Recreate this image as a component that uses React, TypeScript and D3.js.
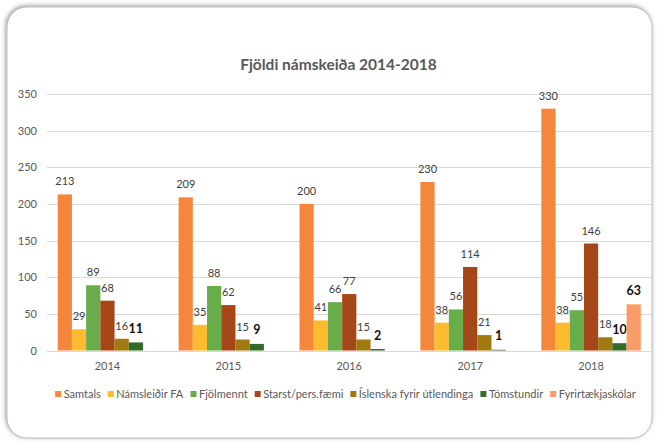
import React from "react";
import * as d3 from "d3";

const years = ["2014", "2015", "2016", "2017", "2018"];
const seriesNames = [
  "Samtals",
  "Námsleiðir FA",
  "Fjölmennt",
  "Starst/pers.fæmi",
  "Íslenska fyrir útlendinga",
  "Tómstundir",
  "Fyrirtækjaskólar",
];
const samtals = [213, 209, 200, 230, 330];
const namsleidir = [29, 35, 41, 38, 38];
const fjolmennt = [89, 88, 66, 56, 55];
const starst = [68, 62, 77, 114, 146];
const islenska = [16, 15, 15, 21, 18];
const tomstundir = [11, 9, 2, 1, 10];
const fyrirtaeki: (number | null)[] = [null, null, null, null, 63];
const seriesColors = ["#F4873C", "#FDBC30", "#69AC4A", "#A6471A", "#A0790F", "#336B28", "#F99C68"];
const boldLabelSeries = [5, 6];
const yTicks = [0, 50, 100, 150, 200, 250, 300, 350];
const title = "Fjöldi námskeiða 2014-2018";

const W = 659;
const H = 443;
const FONT = "Lato, 'Open Sans', sans-serif";

function measure(text: string, font: string): number {
  if (typeof document === "undefined") return text.length * 5.5;
  const c = document.createElement("canvas").getContext("2d");
  if (!c) return text.length * 5.5;
  c.font = font;
  return c.measureText(text).width;
}

export default function App() {
  const allSeries = [samtals, namsleidir, fjolmennt, starst, islenska, tomstundir, fyrirtaeki];

  const x0 = d3
    .scaleBand<string>()
    .domain(years)
    .range([47, 651.5])
    .paddingInner(0.177)
    .paddingOuter(0.0885);
  const x1 = d3
    .scaleBand<number>()
    .domain(d3.range(seriesNames.length))
    .range([0, x0.bandwidth()]);
  const y = d3.scaleLinear().domain([0, 350]).range([350.5, 94]);

  // legend layout
  const legFont = `11px ${FONT}`;
  const sq = 6;
  const sqGap = 2.5;
  const itemGap = 7;
  const widths = seriesNames.map((n) => measure(n, legFont));
  const total =
    d3.sum(widths) + seriesNames.length * (sq + sqGap) + (seriesNames.length - 1) * itemGap;
  let cursor = 345.5 - total / 2;
  const legendItems = seriesNames.map((n, i) => {
    const item = { name: n, x: cursor, color: seriesColors[i] };
    cursor += sq + sqGap + widths[i] + itemGap;
    return item;
  });

  return (
    <svg
      width={W}
      height={H}
      style={{ position: "absolute", left: 0, top: 0, background: "#fff" }}
      fontFamily={FONT}
    >
      <defs>
        <filter id="sh" x="-5%" y="-5%" width="110%" height="110%">
          <feDropShadow dx="-1" dy="-1" stdDeviation="2" floodColor="#555" floodOpacity="0.6" />
        </filter>
      </defs>
      <rect x={0} y={0} width={W} height={H} fill="#fff" />
      <rect
        x={7}
        y={7}
        width={645}
        height={431}
        rx={20}
        ry={20}
        fill="#fff"
        stroke="#bdbdbd"
        strokeWidth={1}
        filter="url(#sh)"
      />
      <text x={338.5} y={70} textAnchor="middle" fontSize={15.5} fontWeight="bold" fill="#595959">
        {title}
      </text>
      {yTicks.map((t) => (
        <g key={t}>
          <line
            x1={47}
            x2={651.5}
            y1={Math.round(y(t)) + 0.5}
            y2={Math.round(y(t)) + 0.5}
            stroke="#d9d9d9"
            strokeWidth={1}
          />
          <text x={37} y={y(t) + 4} textAnchor="end" fontSize={11} fill="#595959">
            {t}
          </text>
        </g>
      ))}
      {years.map((yr, yi) => (
        <g key={yr} transform={`translate(${x0(yr)},0)`}>
          {allSeries.map((s, si) => {
            const v = s[yi];
            if (v === null || v === undefined) return null;
            const bx = x1(si) as number;
            const bw = x1.bandwidth();
            const bold = boldLabelSeries.includes(si);
            return (
              <g key={si}>
                <rect x={bx} y={y(v)} width={bw} height={y(0) - y(v)} fill={seriesColors[si]} />
                <text
                  x={bx + bw / 2}
                  y={y(v) - (bold ? 9.5 : 9)}
                  textAnchor="middle"
                  fontSize={bold ? 12.5 : 11}
                  fontWeight={bold ? "bold" : "normal"}
                  fill={bold ? "#111" : "#404040"}
                >
                  {v}
                </text>
              </g>
            );
          })}
          <text
            x={x0.bandwidth() / 2}
            y={370}
            textAnchor="middle"
            fontSize={11}
            fill="#595959"
          >
            {yr}
          </text>
        </g>
      ))}
      {legendItems.map((it) => (
        <g key={it.name}>
          <rect x={it.x} y={391} width={sq} height={sq} fill={it.color} />
          <text x={it.x + sq + sqGap} y={398} fontSize={11} fill="#595959">
            {it.name}
          </text>
        </g>
      ))}
    </svg>
  );
}
